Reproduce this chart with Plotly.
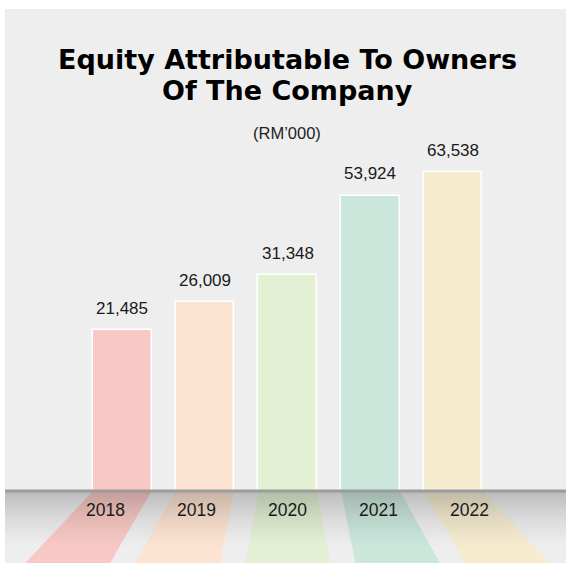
import math
import plotly.graph_objects as go

# Chart data
years = [2018, 2019, 2020, 2021, 2022]
equity = [21485, 26009, 31348, 53924, 63538]
bar_colors = ['#f8c9c4', '#fde3d1', '#e3f0d4', '#cbe7dc', '#f5ecd0']

title_lines = ['Equity Attributable To Owners', 'Of The Company']
unit_label = '(RM\u2019000)'

# Page geometry (pixels)
W, H = 566, 563
ML, MR, MT, MB = 5, 0, 100, 72
plot_w = W - ML - MR
plot_h = H - MT - MB
base_px = H - MB


def py(p):
    return (base_px - p) / plot_h


def px(p):
    return (p - ML) / plot_w


mid = years[len(years) // 2]
bar_w = 0.707
spread = 1.33       # perspective shift of the floor reflections
widen = 1.45        # reflections get wider towards the viewer
label_spread = 1.1

fig = go.Figure()
fig.add_trace(go.Bar(
    x=years, y=equity, width=bar_w,
    marker=dict(color=bar_colors, line=dict(color='white', width=1.5)),
    hovertemplate='%{x}: %{y:,}<extra></extra>',
    showlegend=False,
))

shapes = []
# grey panel behind everything
shapes.append(dict(type='rect', xref='paper', yref='paper', layer='below',
                   x0=px(5), x1=px(W), y0=py(H), y1=py(9),
                   fillcolor='#eeeeee', line=dict(width=0)))

# floor reflections of the bars
y_top, y_bot = py(base_px), py(H)
for yr, col in zip(years, bar_colors):
    l, r = yr - bar_w / 2, yr + bar_w / 2
    bc = mid + spread * (yr - mid)
    bl, br = bc - widen * bar_w / 2, bc + widen * bar_w / 2
    path = f'M {l},{y_top} L {r},{y_top} L {br},{y_bot} L {bl},{y_bot} Z'
    shapes.append(dict(type='path', xref='x', yref='paper', layer='below',
                       path=path, fillcolor=col, line=dict(width=0)))

# floor shading (darker near the base line)
step = 2
n = 28
for i in range(n):
    a = 0.21 * (1 - i / n) ** 1.4
    shapes.append(dict(type='rect', xref='paper', yref='paper', layer='below',
                       x0=px(5), x1=px(W),
                       y0=py(base_px + (i + 1) * step), y1=py(base_px + i * step),
                       fillcolor=f'rgba(0,0,0,{a:.3f})', line=dict(width=0)))

# base line
shapes.append(dict(type='line', xref='paper', yref='paper', layer='above',
                   x0=px(5), x1=px(W), y0=py(base_px), y1=py(base_px),
                   line=dict(color='#9c9c9c', width=3)))

annotations = []
title_font = dict(family='DejaVu Sans, Arial Black, sans-serif', size=27, color='black',
                  weight='bold')
for txt, ypx in zip(title_lines, [59, 91]):
    annotations.append(dict(text=txt, x=px(287), y=py(ypx), xref='paper', yref='paper',
                            xanchor='center', yanchor='middle', showarrow=False,
                            font=title_font))
annotations.append(dict(text=unit_label, x=px(287), y=py(133), xref='paper', yref='paper',
                        xanchor='center', yanchor='middle', showarrow=False,
                        font=dict(family='Liberation Sans, Arial, sans-serif', size=16.5,
                                  color='#222222')))

for yr, v in zip(years, equity):
    annotations.append(dict(text=f'{v:,}', x=yr, y=math.log10(v), xref='x', yref='y',
                            xanchor='center', yanchor='middle', yshift=22, showarrow=False,
                            font=dict(family='Liberation Sans, Arial, sans-serif', size=17,
                                      color='#1a1a1a')))
    annotations.append(dict(text=str(yr), x=mid + label_spread * (yr - mid), y=py(510),
                            xref='x', yref='paper', xanchor='center', yanchor='middle',
                            showarrow=False,
                            font=dict(family='Liberation Sans, Arial, sans-serif', size=17.5,
                                      color='#1a1a1a')))

fig.update_layout(
    width=W, height=H,
    margin=dict(l=ML, r=MR, t=MT, b=MB, pad=0),
    paper_bgcolor='white',
    plot_bgcolor='rgba(0,0,0,0)',
    shapes=shapes,
    annotations=annotations,
    bargap=0,
    xaxis=dict(range=[mid - 3.418, mid + 3.365], showticklabels=False, showgrid=False,
               zeroline=False, ticks='', fixedrange=True),
    yaxis=dict(type='log', range=[3.853, 5.0177], showticklabels=False, showgrid=False,
               zeroline=False, ticks='', fixedrange=True),
)

fig.write_html('out.html', config={'displayModeBar': False},
               post_script="document.body.style.margin='0';")
